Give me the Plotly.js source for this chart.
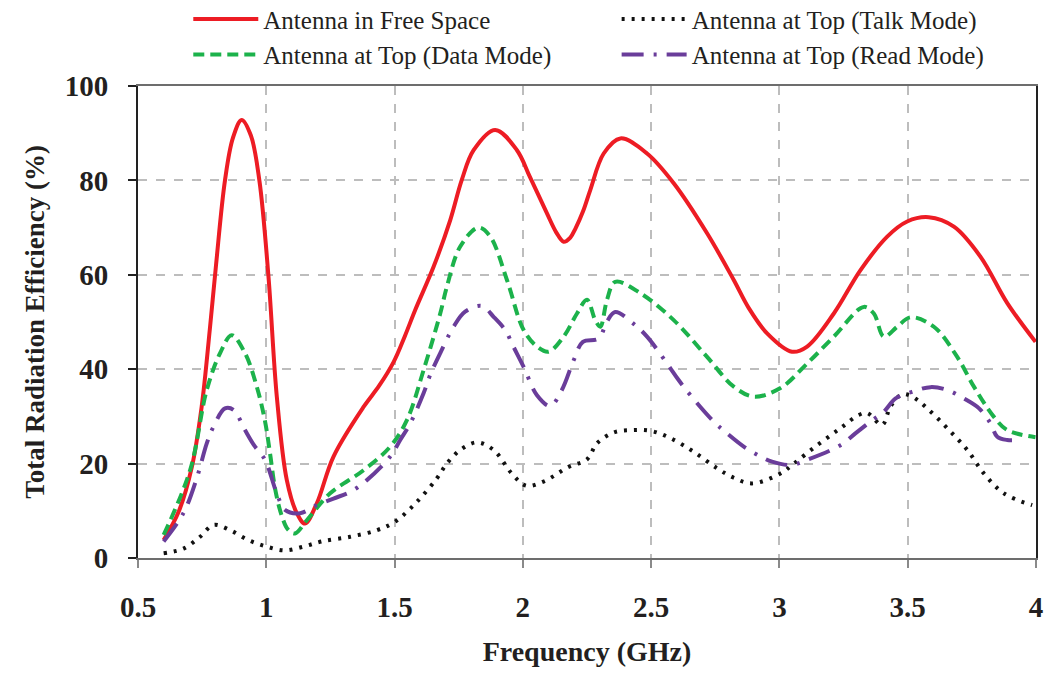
<!DOCTYPE html>
<html>
<head>
<meta charset="utf-8">
<script src="https://cdn.plot.ly/plotly-3.0.1.min.js"></script>
<style>html,body{margin:0;padding:0;background:#fff;}#chart{width:1049px;height:673px;}</style>
</head>
<body>
<div id="chart"></div>
<script>
// Antenna in Free Space
var freeX = [0.6,0.66,0.71,0.748,0.78,0.804,0.839,0.87,0.904,0.94,0.973,1.008,1.041,1.08,1.119,1.151,1.197,1.262,1.379,1.44,1.496,1.54,1.58,1.652,1.717,1.762,1.808,1.892,1.977,2.027,2.094,2.13,2.159,2.185,2.205,2.235,2.263,2.315,2.38,2.484,2.588,2.718,2.822,2.88,2.952,3.049,3.108,3.212,3.316,3.42,3.498,3.582,3.68,3.784,3.888,3.998];
var freeY = [3.8,10,19.3,32,48.5,62,80,89,92.8,89.5,80,60,34.2,16.5,9.5,7.3,11.6,21.5,32,36.5,41.5,47,52.5,61.7,71.6,80.1,86.4,90.7,86.4,80.8,73,69,67,67.9,69.8,73.5,78,85.7,88.9,85.7,79.4,68.8,58.9,53,47.6,43.7,44.8,51.8,61,68.1,71.3,72.2,70.2,63.8,54,45.8];
// Antenna at Top (Talk Mode)
var talkX = [0.6,0.677,0.742,0.794,0.859,0.93,1.002,1.073,1.145,1.216,1.327,1.431,1.502,1.587,1.665,1.704,1.756,1.821,1.886,1.957,2.013,2.081,2.178,2.25,2.289,2.354,2.425,2.501,2.575,2.666,2.757,2.822,2.893,3.004,3.056,3.147,3.238,3.309,3.342,3.4,3.433,3.478,3.517,3.576,3.654,3.732,3.797,3.875,3.985];
var talkY = [1,2,4.5,7,5.9,3.8,2.4,1.6,2.4,3.5,4.5,5.9,7.7,11.9,16.9,20,22.9,24.5,22.9,17.9,15.3,16.2,19.3,20.9,24.3,26.6,27.1,26.9,25.4,22.5,19,17,15.8,17.9,20,23.9,27.5,30.3,30.7,28.2,32.1,34.7,34.2,31.7,27.5,22.9,17.9,13.7,11.2];
// Antenna at Top (Data Mode)
var dataX = [0.6,0.703,0.768,0.82,0.865,0.917,0.963,0.995,1.015,1.035,1.06,1.085,1.112,1.158,1.249,1.379,1.483,1.548,1.613,1.678,1.704,1.756,1.827,1.873,1.938,2.003,2.055,2.1,2.159,2.211,2.25,2.282,2.302,2.328,2.36,2.458,2.588,2.718,2.822,2.9,3.004,3.108,3.212,3.329,3.368,3.407,3.459,3.511,3.602,3.693,3.758,3.836,3.888,3.998];
var dataY = [4.9,18.6,35.6,43.4,47.2,43.4,36.3,29,22,14.5,9,6,5.2,8,13.7,18.6,23.6,29.2,39.8,51.8,57.5,66,70,68.1,58.9,48.3,44.8,43.7,46.9,51.8,54.7,50.4,49,54.7,58.5,56.1,50.4,42.6,36.3,34.2,36,41.2,46.9,53.2,51.8,46.9,49,51,49,42.6,36.3,29.9,27.1,25.6];
// Antenna at Top (Read Mode)
var readX = [0.6,0.677,0.729,0.768,0.794,0.839,0.872,0.917,0.952,0.995,1.041,1.073,1.132,1.197,1.262,1.327,1.392,1.483,1.522,1.561,1.613,1.639,1.678,1.73,1.775,1.84,1.886,1.931,1.963,2.003,2.055,2.107,2.152,2.198,2.234,2.295,2.328,2.36,2.432,2.484,2.562,2.607,2.653,2.744,2.796,2.861,2.926,2.971,3.043,3.108,3.238,3.296,3.355,3.407,3.453,3.517,3.589,3.654,3.719,3.778,3.823,3.849,3.888,3.927];
var readY = [3.5,9.5,16.9,24.3,27.8,31.7,31.4,27.1,23.9,20.8,13.7,10.2,9.5,11.2,12.6,14,16.5,21.5,25,28.5,34.9,38.8,43.4,49,52.2,53.4,51.1,48.3,44.8,40.5,34.5,32.2,35.6,41.9,45.8,46.5,50.1,52.1,49.6,46.9,41.2,37.7,34.5,28.9,26.4,23.6,21.5,20.4,19.7,20.8,23.9,26.4,28.9,31,33.8,35.2,36.2,35.6,33.8,31.7,28.5,25.7,25,25];

var xTicks = [0.5,1,1.5,2,2.5,3,3.5,4];
var xTickText = ['0.5','1','1.5','2','2.5','3','3.5','4'];
var yTicks = [0,20,40,60,80,100];

var names = ['Antenna in Free Space','Antenna at Top (Talk Mode)','Antenna at Top (Data Mode)','Antenna at Top (Read Mode)'];

var serif = 'Liberation Serif, Times New Roman, serif';

var traces = [
  {x: freeX, y: freeY, name: names[0], mode: 'lines', line: {color: '#ED1C24', width: 4, shape: 'spline', smoothing: 1}, legend: 'legend', legendgroup: 'a', legendrank: 1},
  {x: talkX, y: talkY, name: names[1], mode: 'lines', line: {color: '#111111', width: 4, dash: '3px,7px', shape: 'spline', smoothing: 1}, legend: 'legend2', legendgroup: 'b', legendrank: 1},
  {x: dataX, y: dataY, name: names[2], mode: 'lines', line: {color: '#1CB24B', width: 4, dash: '11px,6px', shape: 'spline', smoothing: 1}, legend: 'legend', legendgroup: 'c', legendrank: 2},
  {x: readX, y: readY, name: names[3], mode: 'lines', line: {color: '#6A3D9A', width: 4, dash: '22px,10px,3px,10px', shape: 'spline', smoothing: 1}, legend: 'legend2', legendgroup: 'd', legendrank: 2}
];

var legendFont = {family: serif, size: 25, color: '#231F20'};

var layout = {
  width: 1049, height: 673,
  margin: {l: 138, r: 13, t: 86, b: 115, autoexpand: false},
  paper_bgcolor: '#ffffff', plot_bgcolor: '#ffffff',
  font: {family: serif, color: '#231F20'},
  showlegend: true,
  legend: {x: 0.056, y: 1.19, xanchor: 'left', yanchor: 'top', orientation: 'v', font: legendFont, itemwidth: 65, tracegroupgap: 6, bgcolor: 'rgba(0,0,0,0)', borderwidth: 0, traceorder: 'normal'},
  legend2: {x: 0.533, y: 1.19, xanchor: 'left', yanchor: 'top', orientation: 'v', font: legendFont, itemwidth: 65, tracegroupgap: 6, bgcolor: 'rgba(0,0,0,0)', borderwidth: 0, traceorder: 'normal'},
  xaxis: {
    range: [0.5, 4], tickvals: xTicks, ticktext: xTickText,
    showgrid: true, gridcolor: '#BDBDBD', gridwidth: 2, griddash: 'dash',
    showline: true, linecolor: '#6d6d6d', linewidth: 2, mirror: true,
    ticks: 'outside', ticklen: 8, tickwidth: 2, tickcolor: '#8a8a8a',
    ticklabelstandoff: 14,
    tickfont: {family: serif, size: 29, color: '#231F20', weight: 'bold'},
    title: {text: '<b>Frequency (GHz)</b>', font: {family: serif, size: 28, color: '#231F20'}, standoff: 20},
    zeroline: false
  },
  yaxis: {
    range: [0, 100], tickvals: yTicks,
    showgrid: true, gridcolor: '#BDBDBD', gridwidth: 2, griddash: 'dash',
    showline: true, linecolor: '#222222', linewidth: 2, mirror: true,
    ticks: 'outside', ticklen: 8, tickwidth: 2, tickcolor: '#222222',
    ticklabelstandoff: 14,
    tickfont: {family: serif, size: 29, color: '#231F20', weight: 'bold'},
    title: {text: '<b>Total Radiation Efficiency (%)</b>', font: {family: serif, size: 27, color: '#231F20'}, standoff: 12},
    zeroline: false
  }
};

Plotly.newPlot('chart', traces, layout, {displayModeBar: false, staticPlot: true});
</script>
</body>
</html>
